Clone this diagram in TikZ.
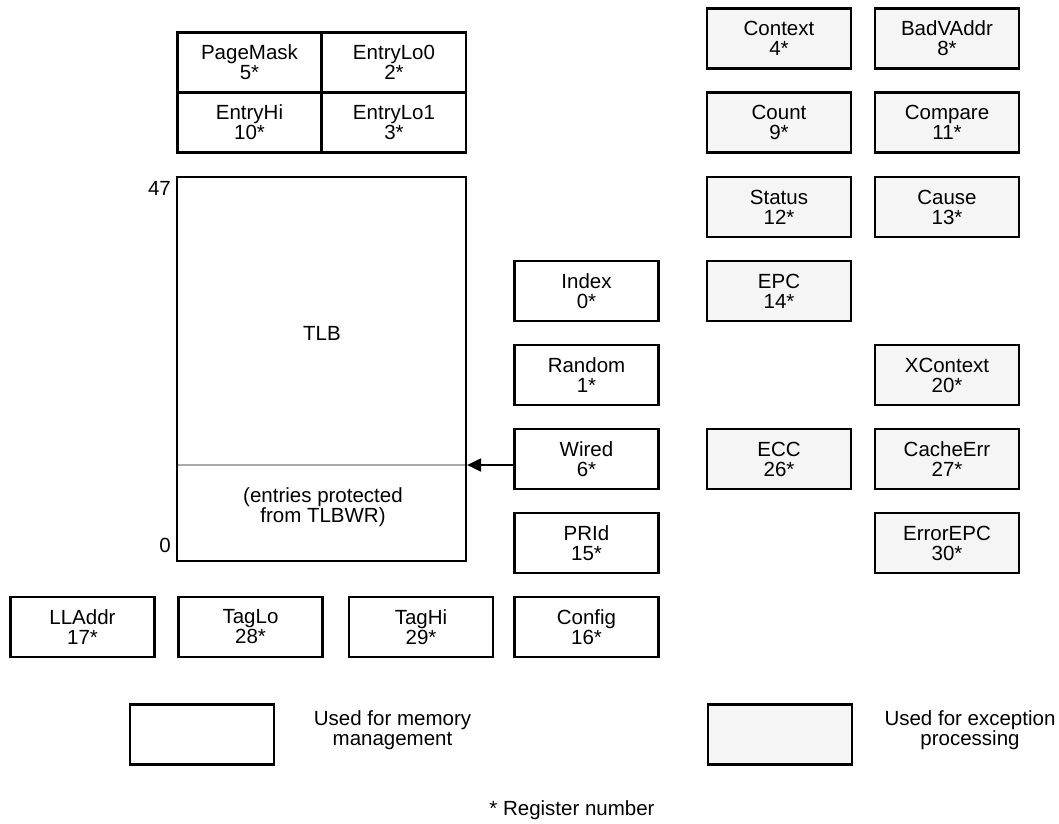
\documentclass[tikz,border=0pt]{standalone}
\usepackage{fontspec}
\setmainfont{Liberation Sans}
\usetikzlibrary{arrows.meta}
\definecolor{excfill}{RGB}{245,245,245}
\definecolor{divgray}{RGB}{170,170,170}
\begin{document}
\begin{tikzpicture}[x=1pt,y=-1pt,
  txt/.style={font=\fontsize{20.5}{20}\selectfont, align=center, inner sep=0pt},
  reg/.style={txt, draw, line width=2.2pt, minimum width=144pt, minimum height=60pt},
  exc/.style={reg, fill=excfill}]
\useasboundingbox (0,0) rectangle (1059,823);

% top grid (memory management)
\node[reg] (pagemask) at (249.5,62.5) {PageMask\\5*};
\node[reg] (entrylo0) at (394,62.5) {EntryLo0\\2*};
\node[reg] (entryhi) at (249.5,122.5) {EntryHi\\10*};
\node[reg] (entrylo1) at (394,122.5) {EntryLo1\\3*};

% TLB
\coordinate (divL) at (177,465);
\coordinate (divR) at (466,465);
\draw[divgray, line width=1.6pt] (divL) -- (divR);
\node[draw, line width=2.2pt, minimum width=289pt, minimum height=384pt, inner sep=0pt] (tlb) at (321.5,369) {};
\node[txt] (tlbtext) at (322,333) {TLB};
\node[txt] (protected) at (323,507) {(entries protected\\from TLBWR)};
\node[txt, anchor=east] (top47) at (171,188) {47};
\node[txt, anchor=east] (bot0) at (171,545) {0};

% middle column
\node[reg] (index) at (586.5,291) {Index\\0*};
\node[reg] (random) at (586.5,375) {Random\\1*};
\node[reg] (wired) at (586.5,459) {Wired\\6*};
\node[reg] (prid) at (586.5,543) {PRId\\15*};
\node[reg] (config) at (586.5,627) {Config\\16*};

\draw[line width=2pt, -{Triangle[length=14pt,width=13pt]}] (wired.west |- divR) -- (tlb.east |- divR);

% bottom row
\node[reg] (lladdr) at (82.5,627) {LLAddr\\17*};
\node[reg] (taglo) at (250.5,627) {TagLo\\28*};
\node[reg] (taghi) at (421,627) {TagHi\\29*};

% exception registers
\node[exc] (context) at (779,38.5) {Context\\4*};
\node[exc] (badvaddr) at (947,38.5) {BadVAddr\\8*};
\node[exc] (count) at (779,122.5) {Count\\9*};
\node[exc] (compare) at (947,122.5) {Compare\\11*};
\node[exc] (status) at (779,207) {Status\\12*};
\node[exc] (cause) at (947,207) {Cause\\13*};
\node[exc] (epc) at (779,291) {EPC\\14*};
\node[exc] (xcontext) at (947,375) {XContext\\20*};
\node[exc] (ecc) at (779,459) {ECC\\26*};
\node[exc] (cacheerr) at (947,459) {CacheErr\\27*};
\node[exc] (errorepc) at (947,543) {ErrorEPC\\30*};

% legend
\node[reg] (legmem) at (202,734.5) {};
\node[txt] (legmemtxt) at (392.5,730) {Used for memory\\management};
\node[exc] (legexc) at (780,734.5) {};
\node[txt] (legexctxt) at (970,730) {Used for exception\\processing};
\node[txt] (regnum) at (572,810) {* Register number};
\end{tikzpicture}
\end{document}
